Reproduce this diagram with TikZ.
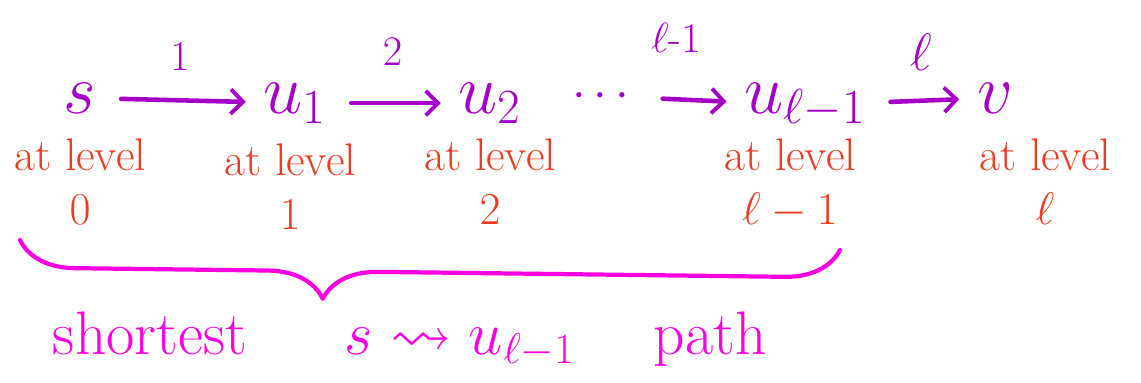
\RequirePackage{fix-cm}
\documentclass[tikz,border=0pt]{standalone}
\usepackage{amsmath}
\usepackage{amssymb}
\usetikzlibrary{positioning,arrows.meta,decorations.pathreplacing}

\definecolor{vpurple}{RGB}{165,0,200}
\definecolor{lvred}{RGB}{235,60,35}
\definecolor{brmag}{RGB}{250,0,225}

\begin{document}
\begin{tikzpicture}[>={Straight Barb[length=7pt,width=14pt,line width=2.2pt]}, line cap=round, line join=round]

% --- styles ---
\tikzset{
  vert/.style={text=vpurple, font=\fontsize{40}{42}\selectfont, inner sep=0pt, anchor=base},
  lvl/.style={text=lvred, font=\fontsize{26}{31}\selectfont, align=center, inner sep=0pt, anchor=north},
  hop/.style={->, draw=vpurple, line width=2.6pt, shorten <=14pt, shorten >=10pt},
  hoplbl/.style={text=vpurple, font=\fontsize{24}{26}\selectfont, inner sep=0pt},
  pathtxt/.style={text=brmag, font=\fontsize{35}{37}\selectfont, inner sep=0pt, anchor=base}
}

\useasboundingbox (0,0) rectangle (22.82,7.64);

% --- vertices on the path ---
\node[vert] (s)    at (1.6,5.38)   {$s$};
\node[vert] (u1)   at (5.9,5.38)   {$u_1$};
\node[vert] (u2)   at (9.8,5.38)   {$u_2$};
\node[vert, font=\fontsize{28}{30}\selectfont] (dots) at (12.1,5.5) {$\cdots$};
\node[vert] (ul)   at (16.1,5.38)  {$u_{\ell-1}$};
\node[vert] (v)    at (19.9,5.38)  {$v$};

% --- edges with their numbers ---
\draw[hop] (s) -- node[hoplbl, above=0.55cm] {$1$} (u1);
\draw[hop] (u1) -- node[hoplbl, above=0.7cm] {$2$} (u2);
\draw[hop] (dots) -- node[hoplbl, above=0.9cm, xshift=-0.3cm] {$\ell\text{-}1$} (ul);
\draw[hop] (ul) -- node[hoplbl, above=0.55cm, font=\fontsize{30}{32}\selectfont] {$\ell$} (v);

% --- levels ---
\node[lvl] (l0) at ([yshift=-0.5cm]s.base)  {at level\\$0$};
\node[lvl] (l1) at ([xshift=-0.1cm,yshift=-0.6cm]u1.base) {at level\\$1$};
\node[lvl] (l2) at ([yshift=-0.5cm]u2.base) {at level\\$2$};
\node[lvl] (ll) at ([xshift=-0.3cm,yshift=-0.5cm]ul.base) {at level\\$\ell-1$};
\node[lvl] (lv) at ([xshift=1cm,yshift=-0.5cm]v.base) {at level\\$\ell$};

% --- brace under the first part ---
\coordinate (brL) at (0.4,2.84);
\coordinate (brR) at (16.8,2.64);
\draw[brmag, line width=2.4pt, decorate,
      decoration={brace, mirror, amplitude=1.1cm, aspect=0.37}] (brL) -- (brR);

\node[pathtxt] (w1) at (3.0,0.55)  {shortest};
\node[pathtxt] (w2) at (9.2,0.55)  {$s \rightsquigarrow u_{\ell-1}$};
\node[pathtxt] (w3) at (14.2,0.55) {path};

\end{tikzpicture}
\end{document}
